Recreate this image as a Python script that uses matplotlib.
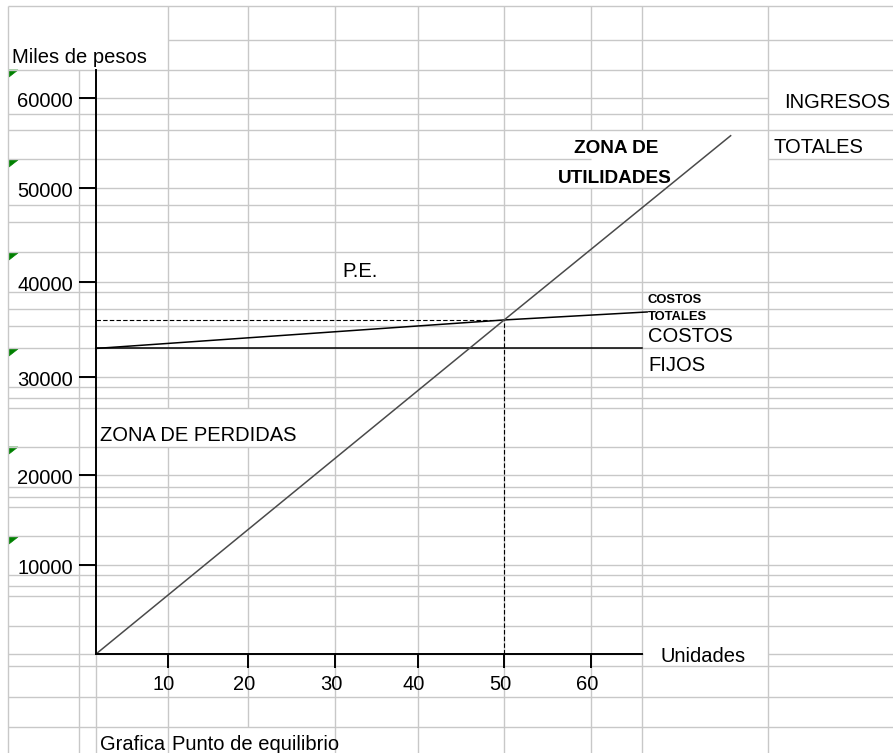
import numpy as np
import matplotlib
matplotlib.use('Agg')
import matplotlib.pyplot as plt
from matplotlib.patches import Polygon
from matplotlib.transforms import ScaledTranslation

plt.rcParams['font.family'] = ['Liberation Sans', 'DejaVu Sans']

# datos (miles de pesos vs unidades)
unidades_ingresos = [0, 50, 76.2]
ingresos = [0, 36000, 55800]
unidades_costos = [0, 50, 66.5]
costos_totales = [33000, 36000, 36840]
unidades_fijos = [0, 65.9]
costos_fijos = [33000, 33000]
pe_unidades = 50
pe_pesos = 36000

x_ticks = [10, 20, 30, 40, 50, 60]
y_ticks = [10000, 20000, 30000, 40000, 50000, 60000]
y_tick_labels = ['10000', '20000', '30000', '40000', '50000', '60000']

# la hoja de calculo no tiene ejes uniformes: marcas puestas en los bordes de celda
x_val = [0, 10, 20, 30, 40, 50, 60, 80]
x_pix = [96, 168, 248, 335, 418, 504, 591, 763]
y_val = [0, 10000, 20000, 30000, 40000, 50000, 60000, 70000]
y_pix = [654, 565, 475, 377, 282, 188, 98, 8]
y_alt = [654 - p for p in y_pix]

W, H = 893, 753
fig = plt.figure(figsize=(W / 100, H / 100), dpi=100)
fig.patch.set_facecolor('white')

# fondo: cuadricula de la hoja
bg = fig.add_axes([0, 0, 1, 1])
bg.set_xlim(0, W)
bg.set_ylim(H, 0)
bg.axis('off')

grid_col = '#c8c8c8'
rows = [6, 40, 70, 98, 114, 130, 159, 188, 205, 222, 252, 282, 292, 309, 326,
        348, 377, 387, 398, 408, 447, 475, 487, 497, 507, 536, 565, 575, 586,
        596, 626, 654, 666, 697, 727]
row_segs = {40: [(168, W)], 98: [(79, 768)], 188: [(79, W)], 282: [(79, W)],
            377: [(79, W)], 475: [(79, W)], 565: [(79, W)],
            159: [(8, 591), (768, W)], 654: [(8, 643), (768, W)]}
for y in rows:
    for x0, x1 in row_segs.get(y, [(8, W)]):
        bg.plot([x0, x1], [y, y], color=grid_col, lw=1.0, solid_capstyle='butt')

cols = [8, 79, 96, 168, 248, 335, 418, 504, 591, 642, 768]
col_segs = {79: [(70, H)], 96: [(654, H)], 168: [(6, 408), (447, H)],
            248: [(6, 408), (447, 727)], 591: [(6, 130), (188, H)],
            642: [(6, 130), (188, H)]}
for x in cols:
    for y0, y1 in col_segs.get(x, [(6, H)]):
        bg.plot([x, x], [y0, y1], color=grid_col, lw=1.0, solid_capstyle='butt')

# indicadores verdes de celda
for yc in [70, 160, 253, 349, 447, 537]:
    bg.add_patch(Polygon([[9, yc], [18, yc], [9, yc + 7]], closed=True,
                         facecolor='#008000', edgecolor='#008000', lw=0.5))

fs = 14.5
txt = dict(color='black', va='baseline', fontsize=fs)
bg.text(12, 63, 'Miles de pesos', ha='left', **txt)
bg.text(100, 441, 'ZONA DE PERDIDAS', ha='left', **txt)
bg.text(342, 277, 'P.E.', ha='left', **txt)
bg.text(616, 153, 'ZONA DE', ha='center', va='baseline', fontsize=13.7,
        fontweight='bold', color='black')
bg.text(615, 183, 'UTILIDADES', ha='center', va='baseline', fontsize=13.7,
        fontweight='bold', color='black')
bg.text(784, 108, 'INGRESOS', ha='left', **txt)
bg.text(773, 153, 'TOTALES', ha='left', **txt)
bg.text(648, 303, 'COSTOS', ha='left', va='baseline', fontsize=9.4,
        fontweight='bold', color='black')
bg.text(648, 320, 'TOTALES', ha='left', va='baseline', fontsize=9.4,
        fontweight='bold', color='black')
bg.text(648, 342, 'COSTOS', ha='left', **txt)
bg.text(648, 371, 'FIJOS', ha='left', **txt)
bg.text(660, 662, 'Unidades', ha='left', **txt)
bg.text(100, 750, 'Grafica', ha='left', **txt)
bg.text(172, 750, 'Punto de equilibrio', ha='left', **txt)

# ejes de la grafica
ax = fig.add_axes([96 / W, (H - 654) / H, (642 - 96) / W, (654 - 70) / H])
ax.patch.set_visible(False)
ax.set_xscale('function', functions=(lambda v: np.interp(v, x_val, x_pix),
                                     lambda p: np.interp(p, x_pix, x_val)))
ax.set_yscale('function', functions=(lambda v: np.interp(v, y_val, y_alt),
                                     lambda h: np.interp(h, y_alt, y_val)))
ax.set_xlim(0, 65.9)
ax.set_ylim(0, 63100)

for s in ['top', 'right']:
    ax.spines[s].set_visible(False)
for s in ['left', 'bottom']:
    ax.spines[s].set_linewidth(1.4)
    ax.spines[s].set_color('black')

ax.plot(unidades_fijos, costos_fijos, color='black', lw=1.1, clip_on=False)
ax.plot(unidades_costos, costos_totales, color='black', lw=1.1, clip_on=False)
ax.plot([0, pe_unidades], [pe_pesos, pe_pesos], color='black', lw=0.8,
        ls=(0, (4, 2)), clip_on=False)
ax.plot([pe_unidades, pe_unidades], [0, pe_pesos], color='black', lw=0.8,
        ls=(0, (4, 2)), clip_on=False)
ax.plot(unidades_ingresos, ingresos, color='#4a4a4a', lw=1.1, clip_on=False)

ax.set_xticks(x_ticks)
ax.set_xticklabels([str(t) for t in x_ticks])
ax.set_yticks(y_ticks)
ax.set_yticklabels(y_tick_labels)
ax.tick_params(axis='x', direction='out', length=10, width=1.4, pad=5,
               labelsize=fs, colors='black')
ax.tick_params(axis='y', direction='out', length=12.2, width=1.4, pad=4.3,
               labelsize=fs, colors='black')

dx = ScaledTranslation(-4 / 100, 0, fig.dpi_scale_trans)
for lab in ax.get_xticklabels():
    lab.set_transform(lab.get_transform() + dx)
dy = ScaledTranslation(0, -2 / 100, fig.dpi_scale_trans)
for lab in ax.get_yticklabels():
    lab.set_transform(lab.get_transform() + dy)

fig.savefig('out.png', dpi=100, facecolor='white')
